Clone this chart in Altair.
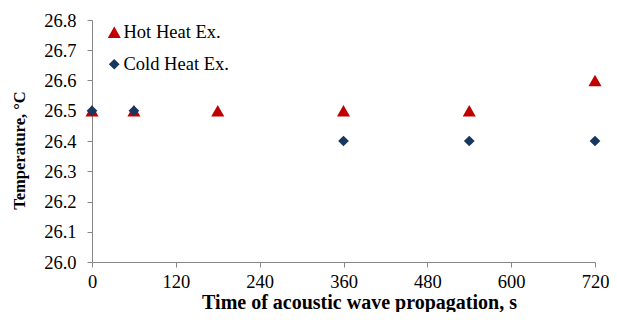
import altair as alt
import pandas as pd

series = ["Hot Heat Ex.", "Cold Heat Ex."]
hot_time = [0, 60, 180, 360, 540, 720]
hot_temp = [26.5, 26.5, 26.5, 26.5, 26.5, 26.6]
cold_time = [0, 60, 360, 540, 720]
cold_temp = [26.5, 26.5, 26.4, 26.4, 26.4]
x_ticks = [0, 120, 240, 360, 480, 600, 720]
y_ticks = [26.0, 26.1, 26.2, 26.3, 26.4, 26.5, 26.6, 26.7, 26.8]
colors = ["#C00000", "#17375E"]
shapes = ["triangle-up", "diamond"]
sizes = [170, 115]

rows = []
for t, v in zip(hot_time, hot_temp):
    rows.append({"time": t, "temp": v, "series": series[0]})
for t, v in zip(cold_time, cold_temp):
    rows.append({"time": t, "temp": v, "series": series[1]})
df = pd.DataFrame(rows)

font = "Liberation Serif"

chart = alt.Chart(df).mark_point(filled=True, opacity=1).encode(
    x=alt.X("time:Q",
            scale=alt.Scale(domain=[0, 720], nice=False, zero=False),
            axis=alt.Axis(values=x_ticks, title="Time of acoustic wave propagation, s",
                          grid=False, labelFlush=False, format="d",
                          titleFontSize=20, titleX=267, titleY=46,
                          titleBaseline="alphabetic", labelPadding=5)),
    y=alt.Y("temp:Q",
            scale=alt.Scale(domain=[26.0, 26.8], nice=False, zero=False),
            axis=alt.Axis(values=y_ticks, title="Temperature, °C", grid=False, format=".1f",
                          titleFontSize=16.5, titleX=-68, titleY=130,
                          titleBaseline="alphabetic", labelPadding=11)),
    color=alt.Color("series:N", scale=alt.Scale(domain=series, range=colors),
                    legend=alt.Legend(title=None, orient="none", legendX=13, legendY=3)),
    shape=alt.Shape("series:N", scale=alt.Scale(domain=series, range=shapes), legend=None),
    size=alt.Size("series:N", scale=alt.Scale(domain=series, range=sizes), legend=None),
).properties(
    width=503, height=242,
    autosize=alt.AutoSizeParams(type="none"),
    padding={"left": 84, "top": 12, "right": 14, "bottom": 50},
).configure_view(stroke=None).configure_axis(
    labelFont=font, titleFont=font, labelFontSize=18.5,
    labelColor="#000000", titleColor="#000000", titleFontWeight="bold",
    domainColor="#868686", tickColor="#868686", tickSize=5,
).configure_legend(
    labelFont=font, labelFontSize=18.5, labelColor="#000000", symbolSize=130,
    rowPadding=13, labelOffset=0,
)

chart.save("out.html", embed_options={"renderer": "svg", "actions": False})
